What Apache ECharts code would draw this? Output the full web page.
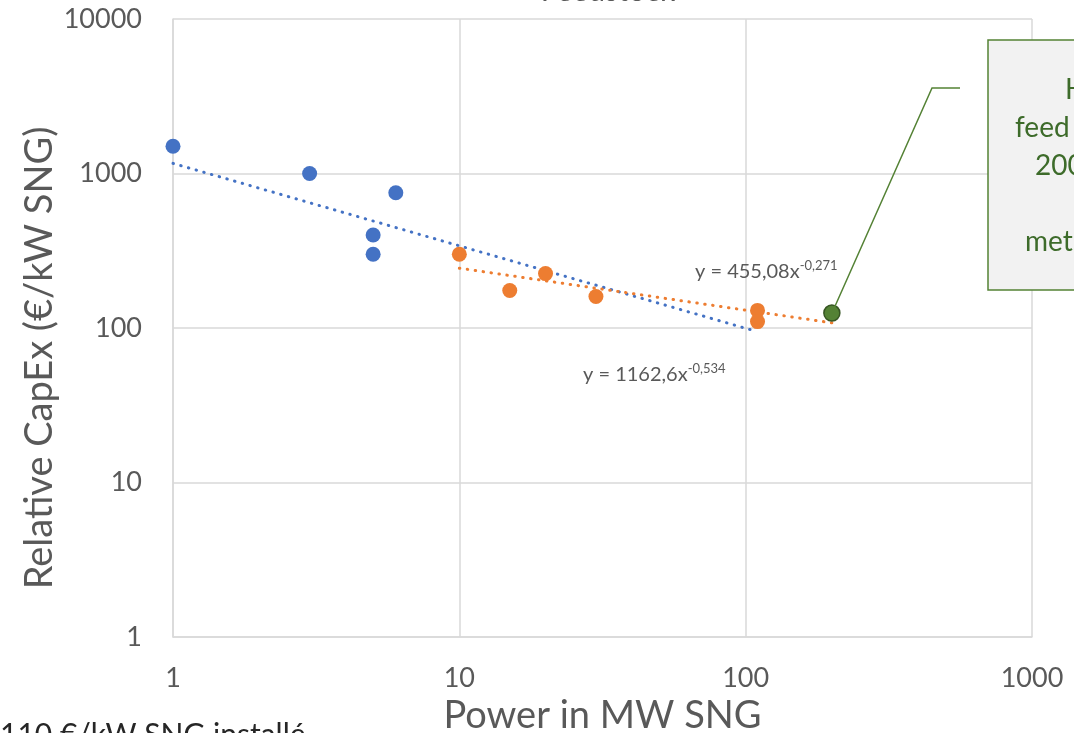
<!DOCTYPE html>
<html><head><meta charset="utf-8">
<script src="https://cdn.jsdelivr.net/npm/echarts@6/dist/echarts.min.js"></script>
<style>html,body{margin:0;padding:0;background:#fff;overflow:hidden}#c{width:1074px;height:733px}</style>
</head><body><div id="c"></div>
<script>
const blueData = [[1,1500],[3,1000],[5,400],[5,300],[6,750]];
const orangeData = [[10,300],[15,175],[20,225],[30,160],[110,130],[110,110]];
const greenData = [[200,125]];
const blueTrend = [[1,1163],[105,97]];
const orangeTrend = [[10,244],[200,108]];
const xTicks = [1,10,100,1000];
const yTicks = [1,10,100,1000,10000];
const titleText = 'Feedstock';
const xName = 'Power in MW SNG';
const yName = 'Relative CapEx (€/kW SNG)';
const boxLines = ['H', 'feed', '200', '', 'met'];
const bottomText = '110 €/kW SNG installé';

const FONT = 'Lato, "Noto Sans", sans-serif';
const GRAY = '#595959';
const chart = echarts.init(document.getElementById('c'), null, {renderer:'canvas'});
const dotted = {type:[0.5,7.5], cap:'round', width:3};
const boxText = (t, x, y) => ({type:'text', x:x, y:y, z:11,
  style:{text:t, fill:'#3d6b2a', fontSize:28, fontFamily:FONT, verticalAlign:'middle'}});
const eqRich = {a:{fontSize:20, fill:GRAY, fontFamily:FONT}, s:{fontSize:13, fill:GRAY, fontFamily:FONT, verticalAlign:'top', padding:[0,0,13,0]}};
chart.setOption({
  animation:false,
  grid:{left:173, right:42, top:19, bottom:96, containLabel:false, outerBoundsMode:'none'},
  xAxis:{type:'log', min:1, max:1000, logBase:10,
    axisLine:{show:true, lineStyle:{color:'#d9d9d9', width:1.5}},
    axisTick:{show:false},
    splitLine:{show:true, lineStyle:{color:'#d9d9d9', width:1.5}},
    axisLabel:{color:GRAY, fontSize:27, fontFamily:FONT, margin:28,
      formatter:v => xTicks.indexOf(Math.round(v)) >= 0 ? String(Math.round(v)) : ''},
    name:xName, nameLocation:'middle', nameGap:57,
    nameTextStyle:{color:GRAY, fontSize:38, fontFamily:FONT}},
  yAxis:{type:'log', min:1, max:10000, logBase:10,
    axisLine:{show:true, lineStyle:{color:'#d9d9d9', width:1.5}},
    axisTick:{show:false},
    splitLine:{show:true, lineStyle:{color:'#d9d9d9', width:1.5}},
    axisLabel:{color:GRAY, fontSize:27, fontFamily:FONT, margin:31,
      formatter:v => yTicks.indexOf(Math.round(v)) >= 0 ? String(Math.round(v)) : ''}},
  series:[
    {type:'line', data:blueTrend, symbol:'none', lineStyle:Object.assign({color:'#4472c4'},dotted), z:2},
    {type:'line', data:orangeTrend, symbol:'none', lineStyle:Object.assign({color:'#ed7d31'},dotted), z:2},
    {type:'scatter', data:blueData, symbolSize:15, itemStyle:{color:'#4472c4', opacity:1}, z:3},
    {type:'scatter', data:orangeData, symbolSize:15, itemStyle:{color:'#ed7d31', opacity:1}, z:3},
    {type:'scatter', data:greenData, symbolSize:16, itemStyle:{color:'#548235', borderColor:'#375623', borderWidth:1.5, opacity:1}, z:3}
  ],
  graphic:[
    {type:'text', x:608, y:-24, style:{text:titleText, fill:GRAY, fontSize:30, fontFamily:FONT, align:'center', verticalAlign:'top'}},
    {type:'text', x:40, y:358, rotation:Math.PI/2, style:{text:yName, fill:GRAY, fontSize:38, fontFamily:FONT, align:'center', verticalAlign:'middle'}},
    {type:'polyline', shape:{points:[[832,313],[932,88],[960,88]]}, style:{stroke:'#548235', lineWidth:1.5, fill:null}, z:10},
    {type:'rect', shape:{x:988, y:40, width:120, height:250}, style:{fill:'#f2f2f2', stroke:'#548235', lineWidth:1.5}, z:10},
    boxText(boxLines[0], 1065, 90),
    boxText(boxLines[1], 1015, 128),
    boxText(boxLines[2], 1035, 166),
    boxText(boxLines[4], 1025, 242),
    {type:'text', x:695, y:259, style:{rich:eqRich, text:'{a|y = 455,08x}{s|-0,271}'}, z:11},
    {type:'text', x:583, y:362, style:{rich:eqRich, text:'{a|y = 1162,6x}{s|-0,534}'}, z:11},
    {type:'text', x:0, y:720, style:{text:bottomText, fill:'#262626', fontSize:30, fontFamily:FONT}, z:11}
  ]
});
</script></body></html>
